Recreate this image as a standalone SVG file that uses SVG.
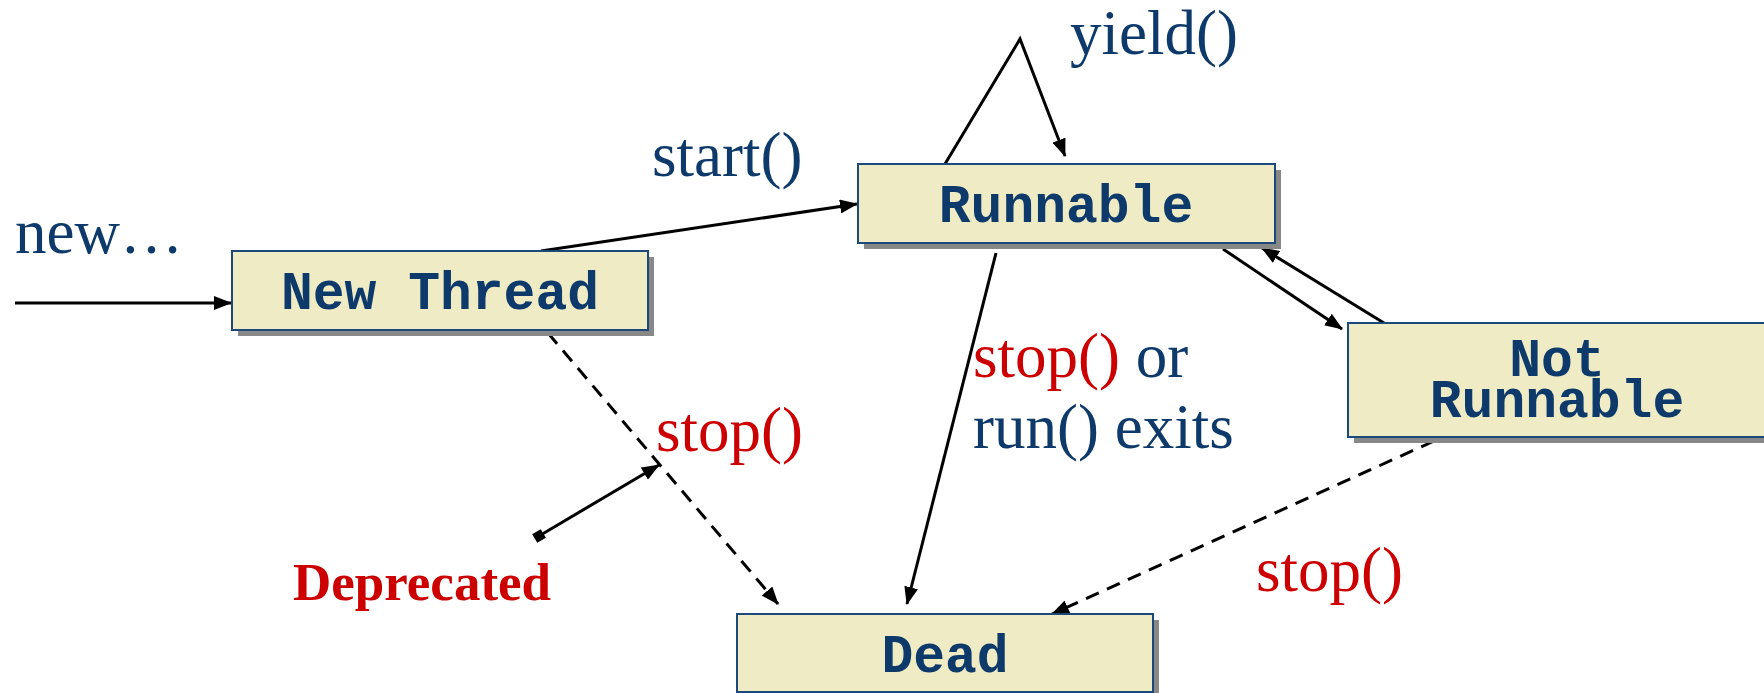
<svg xmlns="http://www.w3.org/2000/svg" width="1764" height="693" viewBox="0 0 1764 693">
<defs>
<style>
.box{fill:#EEEBC5;stroke:#1B4A7A;stroke-width:2}
.shadow{fill:#888888}
.nl{font-family:"Liberation Mono","Courier New",monospace;font-weight:bold;font-size:53px;fill:#0D3A6B;text-anchor:middle}
.lbl{font-family:"Liberation Serif","Times New Roman",serif;font-size:63px;fill:#0D3A6B}
.red{fill:#CC0000}
.ln{stroke:#000;stroke-width:3;fill:none}
.dash{stroke-dasharray:14 9}
</style>
<marker id="ah" markerUnits="userSpaceOnUse" markerWidth="18" markerHeight="14" refX="17" refY="7" orient="auto">
<path d="M0,0 L18,7 L0,14 z" fill="#000"/>
</marker>
<marker id="sq" markerUnits="userSpaceOnUse" markerWidth="12" markerHeight="12" refX="6" refY="6" orient="auto">
<rect x="1" y="1" width="10" height="10" fill="#000"/>
</marker>
</defs>
<rect width="1764" height="693" fill="#fff"/>
<g id="connectors">
<line class="ln" x1="15" y1="303" x2="231" y2="303" marker-end="url(#ah)"/>
<line class="ln" x1="541" y1="251" x2="857" y2="204" marker-end="url(#ah)"/>
<polyline class="ln" points="945,164 1020,39 1065,156" marker-end="url(#ah)"/>
<line class="ln" x1="996" y1="253" x2="907" y2="604" marker-end="url(#ah)"/>
<line class="ln" x1="1223" y1="249" x2="1342" y2="329" marker-end="url(#ah)"/>
<line class="ln" x1="1384" y1="323" x2="1262" y2="248" marker-end="url(#ah)"/>
<line class="ln dash" x1="1434" y1="441" x2="1052" y2="614" marker-end="url(#ah)"/>
<line class="ln dash" x1="548" y1="333" x2="778" y2="604" marker-end="url(#ah)"/>
<line class="ln" x1="539" y1="536" x2="659" y2="465" marker-start="url(#sq)" marker-end="url(#ah)"/>
</g>
<g id="node-new-thread">
<rect class="shadow" x="238" y="257" width="416" height="79"/>
<rect class="box" x="232" y="251" width="416" height="79"/>
<text class="nl" x="440" y="309">New Thread</text>
</g>
<g id="node-runnable">
<rect class="shadow" x="864" y="170" width="417" height="79"/>
<rect class="box" x="858" y="164" width="417" height="79"/>
<text class="nl" x="1066" y="222">Runnable</text>
</g>
<g id="node-not-runnable">
<rect class="shadow" x="1354" y="329" width="417" height="114"/>
<rect class="box" x="1348" y="323" width="417" height="114"/>
<text class="nl" x="1557" y="376">Not</text>
<text class="nl" x="1557" y="417">Runnable</text>
</g>
<g id="node-dead">
<rect class="shadow" x="743" y="620" width="416" height="79"/>
<rect class="box" x="737" y="614" width="416" height="78"/>
<text class="nl" x="945" y="672">Dead</text>
</g>
<g id="labels">
<text class="lbl" x="15" y="253">new…</text>
<text class="lbl" x="652" y="176">start()</text>
<text class="lbl" x="1070" y="54">yield()</text>
<text class="lbl" x="973" y="377"><tspan class="red">stop()</tspan> or</text>
<text class="lbl" x="973" y="448">run() exits</text>
<text class="lbl red" x="656" y="451">stop()</text>
<text class="lbl red" x="1256" y="591">stop()</text>
<text x="293" y="600" font-family="Liberation Serif,'Times New Roman',serif" font-weight="bold" font-size="53" fill="#CC0000">Deprecated</text>
</g>
</svg>
